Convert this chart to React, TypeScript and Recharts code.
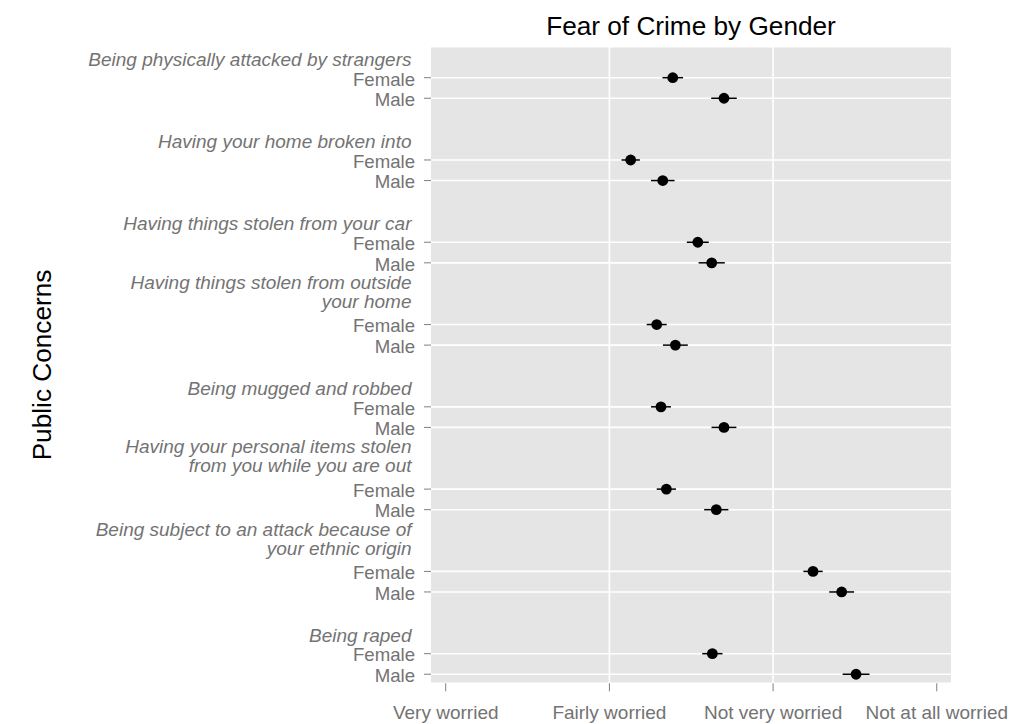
import React from 'react';
import {
  ScatterChart,
  Scatter,
  XAxis,
  YAxis,
  CartesianGrid,
  ErrorBar,
  ReferenceLine,
} from 'recharts';

// survey items, long ones split over two lines as in the original plot
const concerns: string[][] = [
  ['Being physically attacked by strangers'],
  ['Having your home broken into'],
  ['Having things stolen from your car'],
  ['Having things stolen from outside', 'your home'],
  ['Being mugged and robbed'],
  ['Having your personal items stolen', 'from you while you are out'],
  ['Being subject to an attack because of', 'your ethnic origin'],
  ['Being raped'],
];
const genders = ['Female', 'Male'];

const femaleMean = [2.387, 2.13, 2.54, 2.289, 2.315, 2.348, 3.244, 2.629];
const maleMean = [2.7, 2.326, 2.625, 2.403, 2.7, 2.653, 3.419, 3.507];
const femaleErr = [0.063, 0.056, 0.067, 0.061, 0.061, 0.059, 0.059, 0.062];
const maleErr = [0.078, 0.072, 0.08, 0.076, 0.076, 0.074, 0.076, 0.082];

const worryLevels = ['Very worried', 'Fairly worried', 'Not very worried', 'Not at all worried'];
const worryTicks = [1, 2, 3, 4];
const gridValues = [2, 3];

// each concern takes four rows: Female, Male, then two rows for the next heading
const ROWS_PER_GROUP = 4;

const points = concerns.flatMap((_, g) => [
  { x: femaleMean[g], y: g * ROWS_PER_GROUP, err: femaleErr[g] },
  { x: maleMean[g], y: g * ROWS_PER_GROUP + 1, err: maleErr[g] },
]);
const rowTicks = points.map((p) => p.y);

const FONT = '"Liberation Sans", Arial, Helvetica, sans-serif';
const TEXT = '#737373';
const TICK = '#7f7f7f';

const YTick = (props: any) => {
  const { x, y, payload } = props;
  const row = payload.value as number;
  const g = Math.floor(row / ROWS_PER_GROUP);
  const isFemale = row % ROWS_PER_GROUP === 0;
  const lines = concerns[g];
  const bottom = lines.length === 1 ? -19 : -23.5;
  return (
    <g>
      <text x={x} y={y} dy="0.42em" textAnchor="end" fontSize={18.6} fontFamily={FONT} fill={TEXT}>
        {isFemale ? genders[0] : genders[1]}
      </text>
      {isFemale &&
        lines.map((line, i) => (
          <text
            key={i}
            x={x - 3.5}
            y={y + bottom - (lines.length - 1 - i) * 19}
            dy="0.36em"
            textAnchor="end"
            fontSize={19}
            fontStyle="italic"
            fontFamily={FONT}
            fill={TEXT}
          >
            {line}
          </text>
        ))}
    </g>
  );
};

const Dot = (props: any) => <circle cx={props.cx} cy={props.cy} r={5.4} fill="#000" />;

export default function App() {
  return (
    <div style={{ position: 'absolute', left: 0, top: 0, width: 1032, height: 724, background: '#fff' }}>
      <ScatterChart width={1032} height={724} margin={{ top: 46.7, right: 81, bottom: 0, left: 0 }}>
        <CartesianGrid fill="#E5E5E5" stroke="#fff" strokeWidth={1.6} vertical={false} />
        {gridValues.map((v) => (
          <ReferenceLine key={v} x={v} stroke="#fff" strokeWidth={1.6} />
        ))}
        <XAxis
          type="number"
          dataKey="x"
          domain={[0.91, 4.087]}
          ticks={worryTicks}
          allowDataOverflow
          axisLine={false}
          tickSize={8}
          tickMargin={14}
          tickLine={{ stroke: TICK }}
          height={40.7}
          tickFormatter={(v: number) => worryLevels[v - 1]}
          tick={{ fill: TEXT, fontSize: 19, fontFamily: FONT }}
          interval={0}
        />
        <YAxis
          type="number"
          dataKey="y"
          domain={[-1.507, 29.44]}
          reversed
          allowDataOverflow
          ticks={rowTicks}
          interval={0}
          axisLine={false}
          tickSize={7}
          tickMargin={9}
          tickLine={{ stroke: TICK }}
          width={431}
          tick={<YTick />}
        />
        <Scatter data={points} shape={<Dot />} isAnimationActive={false}>
          <ErrorBar dataKey="err" direction="x" width={0} stroke="#000" strokeWidth={1.5} />
        </Scatter>
      </ScatterChart>
      <svg
        width={1032}
        height={724}
        style={{ position: 'absolute', left: 0, top: 0, pointerEvents: 'none' }}
      >
        <text x={691} y={35} textAnchor="middle" fontSize={26.2} fontFamily={FONT} fill="#000">
          Fear of Crime by Gender
        </text>
        <text
          x={51}
          y={365}
          transform="rotate(-90 51 365)"
          textAnchor="middle"
          fontSize={26.2}
          fontFamily={FONT}
          fill="#000"
        >
          Public Concerns
        </text>
      </svg>
    </div>
  );
}
